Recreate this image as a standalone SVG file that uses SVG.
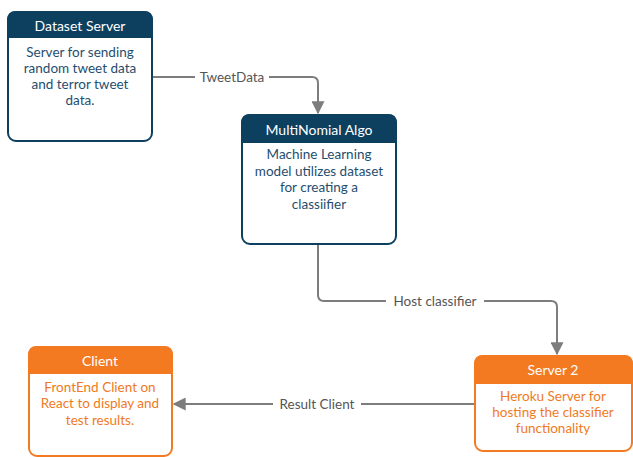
<svg xmlns="http://www.w3.org/2000/svg" width="633" height="457" viewBox="0 0 633 457">
<style>
.t{font-family:Lato,"Open Sans","Liberation Sans",sans-serif;font-size:13.5px;text-anchor:middle;dominant-baseline:central}
.h{fill:#fff;font-size:14px}
.bn{fill:#1f4e6e}
.bo{fill:#f07a24}
.lb{fill:#555;font-size:13.5px}
.con{fill:none;stroke:#7d7d7d;stroke-width:2}
</style>
<defs>
<marker id="ar" viewBox="0 0 10 10" refX="9" refY="5" markerWidth="6.5" markerHeight="6.5" orient="auto" markerUnits="strokeWidth">
<path d="M0,0 L10,5 L0,10 z" fill="#7d7d7d"/>
</marker>
</defs>
<rect width="633" height="457" fill="#fff"/>
<g id="connectors">
<path class="con" d="M152,77 H312 Q318,77 318,83 V113" marker-end="url(#ar)"/>
<rect x="195" y="69" width="74" height="16" fill="#fff"/>
<text class="t lb" x="232" y="77">TweetData</text>
<path class="con" d="M318,244 V295 Q318,301 324,301 H551 Q557,301 557,307 V354" marker-end="url(#ar)"/>
<rect x="386" y="293" width="98" height="16" fill="#fff"/>
<text class="t lb" x="435" y="301">Host classifier</text>
<path class="con" d="M475,404 H174" marker-end="url(#ar)"/>
<rect x="273" y="396" width="88" height="16" fill="#fff"/>
<text class="t lb" x="317" y="404">Result Client</text>
</g>
<g id="dataset-server">
<rect x="8" y="12" width="144" height="129" rx="8" fill="#fff" stroke="#0d3f5f" stroke-width="2"/>
<path d="M8,37 V20 Q8,12 16,12 H144 Q152,12 152,20 V37 Z" fill="#0d3f5f" stroke="#0d3f5f" stroke-width="2"/>
<text class="t h" x="80" y="25">Dataset Server</text>
<text class="t bn" x="80" y="52">Server for sending</text>
<text class="t bn" x="80" y="68">random tweet data</text>
<text class="t bn" x="80" y="84">and terror tweet</text>
<text class="t bn" x="80" y="100">data.</text>
</g>
<g id="multinomial-algo">
<rect x="242" y="115" width="154" height="129" rx="8" fill="#fff" stroke="#0d3f5f" stroke-width="2"/>
<path d="M242,142 V123 Q242,115 250,115 H388 Q396,115 396,123 V142 Z" fill="#0d3f5f" stroke="#0d3f5f" stroke-width="2"/>
<text class="t h" x="319" y="129">MultiNomial Algo</text>
<text class="t bn" x="319" y="154">Machine Learning</text>
<text class="t bn" x="319" y="171">model utilizes dataset</text>
<text class="t bn" x="319" y="187">for creating a</text>
<text class="t bn" x="319" y="204">classiifier</text>
</g>
<g id="server-2">
<rect x="475" y="356" width="157" height="95" rx="8" fill="#fff" stroke="#f37a21" stroke-width="2"/>
<path d="M475,383 V364 Q475,356 483,356 H624 Q632,356 632,364 V383 Z" fill="#f37a21" stroke="#f37a21" stroke-width="2"/>
<text class="t h" x="553" y="369">Server 2</text>
<text class="t bo" x="553" y="396">Heroku Server for</text>
<text class="t bo" x="553" y="412">hosting the classifier</text>
<text class="t bo" x="553" y="428">functionality</text>
</g>
<g id="client">
<rect x="29" y="347" width="143" height="109" rx="8" fill="#fff" stroke="#f37a21" stroke-width="2"/>
<path d="M29,373 V355 Q29,347 37,347 H164 Q172,347 172,355 V373 Z" fill="#f37a21" stroke="#f37a21" stroke-width="2"/>
<text class="t h" x="100" y="360">Client</text>
<text class="t bo" x="100" y="387">FrontEnd Client on</text>
<text class="t bo" x="100" y="403">React to display and</text>
<text class="t bo" x="100" y="420">test results.</text>
</g>
</svg>
